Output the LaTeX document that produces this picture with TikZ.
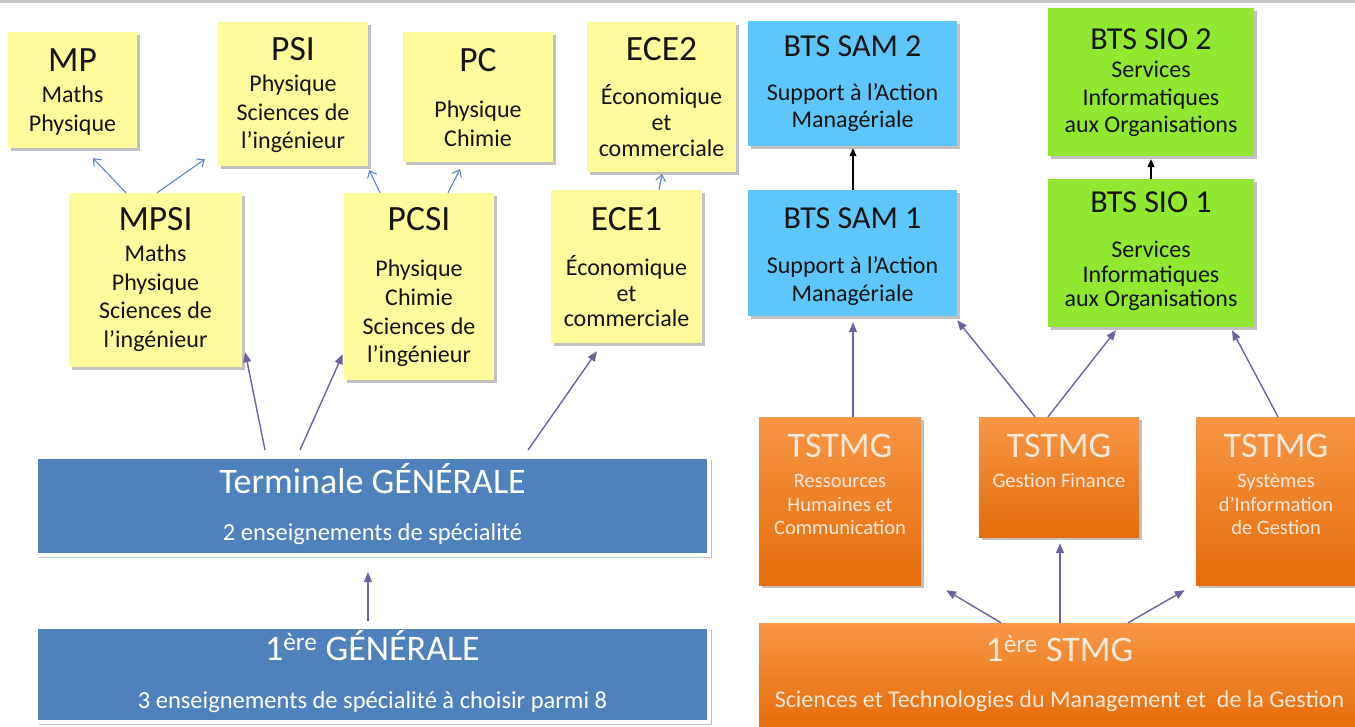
\documentclass[tikz,border=0pt]{standalone}
\usepackage{fontspec}
\setmainfont{Carlito}
\usetikzlibrary{calc,shadows,arrows.meta}
\definecolor{yel}{RGB}{253,251,155}
\definecolor{tblue}{RGB}{79,129,189}
\definecolor{lblue}{RGB}{94,198,248}
\definecolor{lgreen}{RGB}{146,232,48}
\definecolor{orgtop}{RGB}{247,150,70}
\definecolor{orgbot}{RGB}{228,108,10}
\definecolor{peach}{RGB}{253,233,217}
\definecolor{arrblue}{RGB}{96,132,196}
\definecolor{arrpurp}{RGB}{112,96,160}
\definecolor{txt}{RGB}{20,20,20}
% #6 = baseline of the LAST line of the sub text, measured from the box top
\newcommand\boxlabels[7]{%
  \node[#2] (#1-t) at ($(#1.north)+(0,-#3)$) {#4};
  \node[#5] (#1-s) at ($(#1.north)+(0,-#6)$) {#7};}
\tikzset{
  shad/.style={drop shadow={shadow xshift=3pt,shadow yshift=-3pt,opacity=.35,fill=black!70}},
  ybox/.style={fill=yel, inner sep=0pt, shad},
  sbox/.style={fill=lblue, inner sep=0pt, shad},
  gbox/.style={fill=lgreen, inner sep=0pt, shad},
  bbox/.style={fill=tblue, draw=white, line width=4pt, inner sep=0pt, shad},
  obox/.style={top color=orgtop, bottom color=orgbot, inner sep=0pt, shad},
  ttl/.style={anchor=base, inner sep=0pt, text=txt, font=\fontsize{35.5}{40}\selectfont},
  bttl/.style={anchor=base, inner sep=0pt, text=txt, font=\fontsize{32}{36}\selectfont},
  subt/.style={anchor=base, inner sep=0pt, align=center, text=txt, font=\fontsize{24}{#1}\selectfont},
  subt/.default=28.5,
  wttl/.style={anchor=base, inner sep=0pt, text=white, font=\fontsize{36}{42}\selectfont},
  wsub/.style={anchor=base, inner sep=0pt, text=white, font=\fontsize{24.5}{28}\selectfont},
  ottl/.style={anchor=base, inner sep=0pt, text=peach, font=\fontsize{36}{42}\selectfont},
  osub/.style={anchor=base, inner sep=0pt, align=center, text=peach, font=\fontsize{20.5}{23.5}\selectfont},
  barrow/.style={draw=arrblue, line width=1.1pt, -{Straight Barb[length=6pt,width=10pt]}},
  parrow/.style={draw=arrpurp, line width=1.4pt, -{Triangle[length=10pt,width=8pt]}},
  karrow/.style={draw=black, line width=1.2pt, -{Triangle[length=8pt,width=7pt]}},
}
\begin{document}
\begin{tikzpicture}[x=1pt,y=1pt]
\useasboundingbox (0,0) rectangle (1355,-726);
\draw[black!22, line width=3pt] (0,-1.5) -- (1355,-1.5);
% yellow boxes
\node[ybox, minimum width=129pt, minimum height=116pt] (mp) at (72.5,-90) {};
\node[ybox, minimum width=150pt, minimum height=144pt] (psi) at (293,-94) {};
\node[ybox, minimum width=150pt, minimum height=130pt] (pc) at (478,-97) {};
\node[ybox, minimum width=149pt, minimum height=150pt] (ece2) at (661.5,-97) {};
\node[ybox, minimum width=173pt, minimum height=174pt] (mpsi) at (155.5,-280) {};
\node[ybox, minimum width=150pt, minimum height=187pt] (pcsi) at (419,-286.5) {};
\node[ybox, minimum width=151pt, minimum height=153pt] (ece1) at (626.5,-266.5) {};
% BTS
\node[sbox, minimum width=209pt, minimum height=125pt] (sam2) at (852.5,-83.5) {};
\node[sbox, minimum width=209pt, minimum height=126pt] (sam1) at (852.5,-253) {};
\node[gbox, minimum width=206pt, minimum height=148pt] (sio2) at (1151,-82) {};
\node[gbox, minimum width=206pt, minimum height=148pt] (sio1) at (1151,-253) {};
% general
\node[bbox, minimum width=673pt, minimum height=98pt] (term) at (372.5,-506) {};
\node[bbox, minimum width=673pt, minimum height=95pt] (g1) at (372.5,-674.5) {};
% STMG
\node[obox, minimum width=162pt, minimum height=168pt] (rhc) at (840,-501) {};
\node[obox, minimum width=160pt, minimum height=120pt] (gf) at (1059,-477) {};
\node[obox, minimum width=160pt, minimum height=168pt] (sig) at (1276,-501) {};
\node[obox, minimum width=601pt, minimum height=107pt] (stmg) at (1059.5,-676.5) {};
% labels
\boxlabels{mp}{ttl}{40}{MP}{subt=29}{100}{Maths\\Physique}
\boxlabels{psi}{ttl}{39}{PSI}{subt=28.5}{127}{Physique\\Sciences de\\l’ingénieur}
\boxlabels{pc}{ttl}{40}{PC}{subt=29}{115}{Physique\\Chimie}
\boxlabels{ece2}{ttl}{39}{ECE2}{subt=26}{135}{Économique\\et\\commerciale}
\boxlabels{mpsi}{ttl}{38}{MPSI}{subt=28.5}{154.5}{Maths\\Physique\\Sciences de\\l’ingénieur}
\boxlabels{pcsi}{ttl}{38}{PCSI}{subt=28.7}{170}{Physique\\Chimie\\Sciences de\\l’ingénieur}
\boxlabels{ece1}{ttl}{41}{ECE1}{subt=25.5}{137}{Économique\\et\\commerciale}
\boxlabels{sam2}{bttl}{36}{BTS SAM 2}{subt=27}{107}{Support à l’Action\\Managériale}
\boxlabels{sam1}{bttl}{39}{BTS SAM 1}{subt=28}{112}{Support à l’Action\\Managériale}
\boxlabels{sio2}{bttl}{42}{BTS SIO 2}{subt=27.5}{125}{Services\\Informatiques\\aux Organisations}
\boxlabels{sio1}{bttl}{34}{BTS SIO 1}{subt=24.5}{128}{Services\\Informatiques\\aux Organisations}
\boxlabels{term}{wttl}{38}{Terminale GÉNÉRALE}{wsub}{85}{2 enseignements de spécialité}
\boxlabels{g1}{wttl}{35}{1\textsuperscript{ère} GÉNÉRALE}{wsub}{83}{3 enseignements de spécialité à choisir parmi 8}
\boxlabels{rhc}{ottl}{41}{TSTMG}{osub}{118}{Ressources\\Humaines et\\Communication}
\boxlabels{gf}{ottl}{41}{TSTMG}{osub}{71}{Gestion Finance}
\boxlabels{sig}{ottl}{41}{TSTMG}{osub}{118}{Systèmes\\d’Information\\de Gestion}
\boxlabels{stmg}{ottl}{39}{1\textsuperscript{ère} STMG}{osub}{85}{\fontsize{24}{28}\selectfont Sciences et Technologies du Management et\ \ de la Gestion}
% blue arrows
\draw[barrow] ($(mpsi.north)+(-29.5,0)$) -- ($(mp.south)+(20.5,-10)$);
\draw[barrow] ($(mpsi.north)+(1.5,0)$) -- ($(psi.south west)+(-13,7)$);
\draw[barrow] ($(pcsi.north)+(-39,0)$) -- ($(psi.south east)+(1,-4)$);
\draw[barrow] ($(pcsi.north)+(29,0)$) -- ($(pc.south)+(-18,-7)$);
\draw[barrow] ($(ece1.north)+(32.5,0)$) -- ($(ece2.south)+(0.5,-2)$);
% purple arrows
\draw[parrow] ($(term.north)+(-107.5,5)$) -- ($(mpsi.south east)+(3,15)$);
\draw[parrow] ($(term.north)+(-72.5,5)$) -- ($(pcsi.south west)+(-1,26)$);
\draw[parrow] ($(term.north)+(155.5,5)$) -- ($(ece1.south)+(-29.5,-8)$);
\draw[parrow] ($(g1.north)+(-4.5,4)$) -- ($(term.south)+(-4.5,-15)$);
\draw[parrow] ($(rhc.north)+(13,0)$) -- ($(sam1.south)+(0.5,-6)$);
\draw[parrow] ($(gf.north)+(-24,0)$) -- ($(sam1.south east)+(0,-4)$);
\draw[parrow] ($(gf.north)+(-11,0)$) -- ($(sio1.south)+(-35,-3)$);
\draw[parrow] ($(sig.north)+(2,0)$) -- ($(sio1.south)+(81,-3)$);
\draw[parrow] ($(stmg.north)+(-58.5,0)$) -- ($(rhc.south east)+(25,-5)$);
\draw[parrow] ($(stmg.north)+(0.5,0)$) -- ($(gf.south)+(1,-6)$);
\draw[parrow] ($(stmg.north)+(68.5,0)$) -- ($(sig.south west)+(-11,-5)$);
% black arrows
\draw[karrow] ($(sam1.north)+(0.5,0)$) -- ($(sam2.south)+(0.5,-2)$);
\draw[karrow] (sio1.north) -- ($(sio2.south)+(0,-3)$);
\end{tikzpicture}
\end{document}
